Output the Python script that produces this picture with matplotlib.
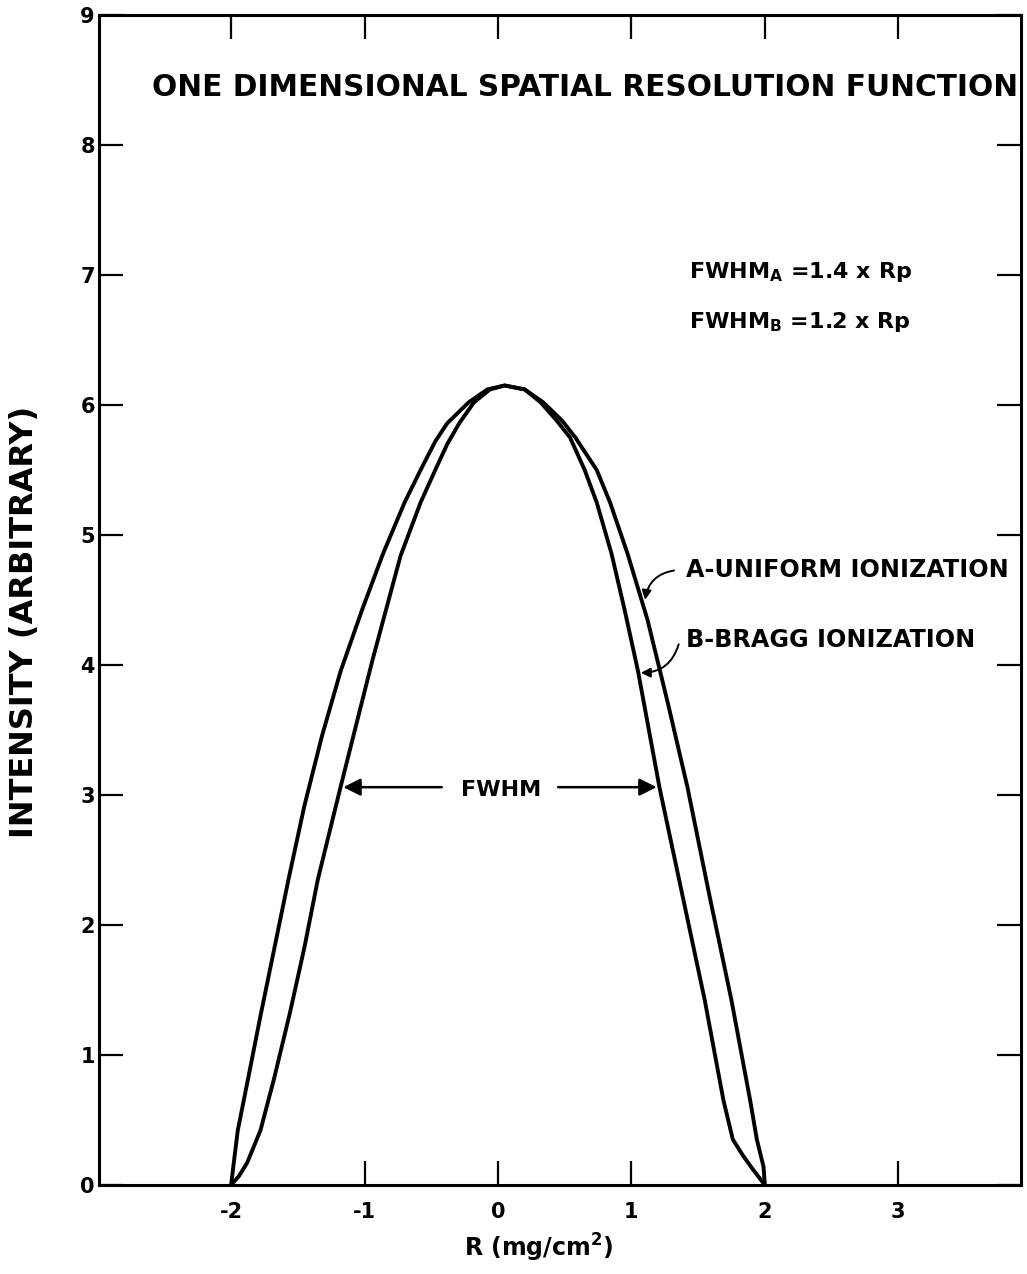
import matplotlib
matplotlib.use("Agg")
import matplotlib.pyplot as plt

# curve A: uniform ionization
a_x = [-2.0, -1.98, -1.95, -1.88, -1.78, -1.67, -1.57, -1.45, -1.32, -1.18, -1.02,
       -0.86, -0.70, -0.58, -0.47, -0.38, -0.22, -0.08, 0.05, 0.20, 0.34, 0.48,
       0.58, 0.74, 0.84, 0.97, 1.12, 1.27, 1.42, 1.58, 1.75, 1.89, 1.94, 1.99, 2.0]
a_y = [0.0, 0.17, 0.42, 0.78, 1.30, 1.85, 2.35, 2.92, 3.45, 3.95, 4.42,
       4.86, 5.25, 5.50, 5.72, 5.86, 6.02, 6.12, 6.15, 6.12, 6.02, 5.88,
       5.75, 5.50, 5.25, 4.86, 4.35, 3.72, 3.06, 2.25, 1.42, 0.65, 0.35, 0.14, 0.0]

# curve B: Bragg ionization
b_x = [-2.0, -1.94, -1.88, -1.78, -1.68, -1.56, -1.45, -1.35, -1.18, -0.94, -0.73,
       -0.58, -0.47, -0.38, -0.29, -0.18, -0.06, 0.05, 0.20, 0.32, 0.44, 0.54,
       0.65, 0.74, 0.85, 0.95, 1.05, 1.21, 1.38, 1.55, 1.69, 1.76, 1.84, 1.91, 2.0]
b_y = [0.0, 0.07, 0.17, 0.42, 0.81, 1.32, 1.83, 2.35, 3.06, 4.04, 4.84,
       5.25, 5.50, 5.70, 5.86, 6.02, 6.12, 6.15, 6.12, 6.02, 5.88, 5.75,
       5.50, 5.25, 4.86, 4.42, 3.95, 3.06, 2.24, 1.42, 0.65, 0.35, 0.22, 0.12, 0.0]

x_ticks = [-2, -1, 0, 1, 2, 3]
x_tick_labels = ["-2", "-1", "0", "1", "2", "3"]
y_ticks = [0, 1, 2, 3, 4, 5, 6, 7, 8, 9]

half_max = 3.06
fwhm_b_left, fwhm_b_right = -1.18, 1.21

plt.rcParams["font.family"] = ["DejaVu Sans"]
plt.rcParams["mathtext.fontset"] = "dejavusans"

fig = plt.figure(figsize=(10.27, 12.74), dpi=100)
ax = fig.add_axes([0.0964, 0.0699, 0.8978, 0.9183])

ax.plot(a_x, a_y, color="black", lw=2.8, solid_joinstyle="round")
ax.plot(b_x, b_y, color="black", lw=2.8, solid_joinstyle="round")

ax.set_xlim(-2.99, 3.92)
ax.set_ylim(0, 9)

for s in ax.spines.values():
    s.set_linewidth(2.2)

ax.set_xticks(x_ticks)
ax.set_xticklabels(x_tick_labels)
ax.set_yticks(y_ticks)
ax.tick_params(direction="in", length=17, width=1.6, top=True, right=True,
               labelsize=15)
ax.tick_params(axis="x", pad=12)
ax.tick_params(axis="y", pad=3)
for lab in ax.get_xticklabels() + ax.get_yticklabels():
    lab.set_fontweight("bold")
# bottom ticks at -2 and 2 are hidden under the curve ends
for i in (0, 4):
    ax.xaxis.get_major_ticks()[i].tick1line.set_visible(False)

ax.set_xlabel(r"R (mg/cm$^\mathbf{2}$)", fontsize=17, fontweight="bold")
ax.xaxis.set_label_coords(0.477, -0.040)
ax.set_ylabel("INTENSITY (ARBITRARY)", fontsize=23, fontweight="bold")
ax.yaxis.set_label_coords(-0.064, 0.481)

ax.text(-2.59, 8.44, "ONE DIMENSIONAL SPATIAL RESOLUTION FUNCTION",
        fontsize=21.3, fontweight="bold", va="center", ha="left")

ax.text(1.43, 7.02, r"FWHM$_\mathbf{A}$ =1.4 x Rp", fontsize=16,
        fontweight="bold", va="center", ha="left")
ax.text(1.43, 6.64, r"FWHM$_\mathbf{B}$ =1.2 x Rp", fontsize=16,
        fontweight="bold", va="center", ha="left")

ax.text(1.41, 4.73, "A-UNIFORM IONIZATION", fontsize=17.2, fontweight="bold",
        va="center", ha="left")
ax.text(1.41, 4.19, "B-BRAGG IONIZATION", fontsize=17.2, fontweight="bold",
        va="center", ha="left")

ax.annotate("", xy=(1.10, 4.48), xytext=(1.34, 4.73),
            arrowprops=dict(arrowstyle="-|>", color="black", lw=1.4,
                            connectionstyle="arc3,rad=0.4", mutation_scale=14))
ax.annotate("", xy=(1.05, 3.94), xytext=(1.36, 4.18),
            arrowprops=dict(arrowstyle="-|>", color="black", lw=1.4,
                            connectionstyle="arc3,rad=-0.4", mutation_scale=14))

# FWHM arrows
ax.text(0.02, half_max - 0.02, "FWHM", fontsize=16, fontweight="bold",
        va="center", ha="center")
ax.annotate("", xy=(fwhm_b_left, half_max), xytext=(-0.40, half_max),
            arrowprops=dict(arrowstyle="-|>", color="black", lw=1.8,
                            mutation_scale=26))
ax.annotate("", xy=(fwhm_b_right, half_max), xytext=(0.43, half_max),
            arrowprops=dict(arrowstyle="-|>", color="black", lw=1.8,
                            mutation_scale=26))

fig.savefig("out.png", dpi=100)
